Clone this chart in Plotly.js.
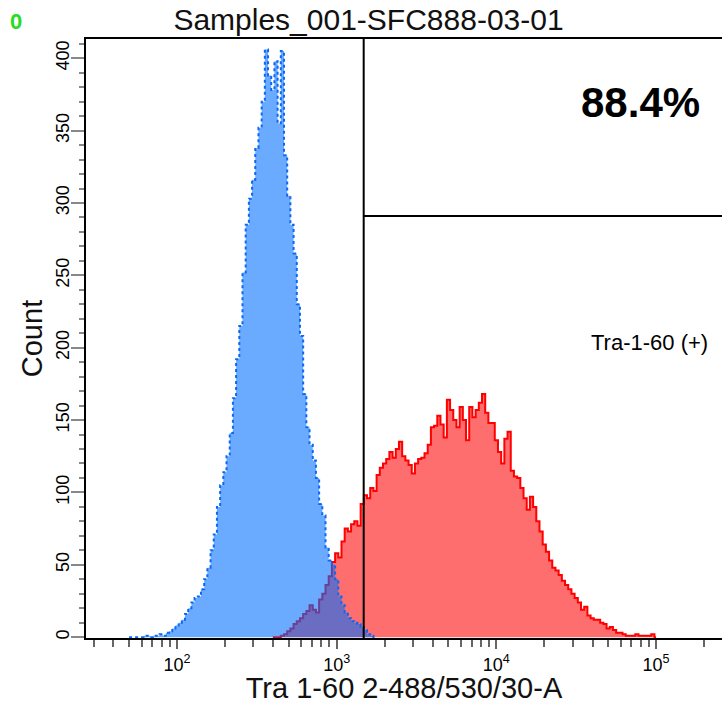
<!DOCTYPE html>
<html><head><meta charset="utf-8">
<script src="https://cdn.plot.ly/plotly-3.0.1.min.js"></script>
<style>html,body{margin:0;padding:0;background:#fff}#chart{width:722px;height:704px}</style>
</head><body><div id="chart"></div>
<script>
const chartTitle = 'Samples_001-SFC888-03-01';
const xTitle = 'Tra 1-60 2-488/530/30-A';
const yTitle = 'Count';
const sampleTag = '0';

// histogram bins: first bin centre (log10) and bin width (log10)
const controlStartLog = 1.70;
const stainedStartLog = 2.60;
const binStepLog = 0.02;

// isotype / unstained control (blue)
const controlCounts = [
  0,0,0,0,0,1,1,0,1,1,
  2,1,3,4,6,8,10,12,16,20,
  24,27,28,33,40,48,60,71,90,105,
  114,125,141,165,192,215,252,285,303,316,
  338,352,370,406,388,378,398,355,405,333,
  305,285,265,230,208,168,145,133,122,110,
  92,84,62,53,50,40,28,22,17,13,
  11,10,9,7,5,2,1,0
];
// Tra-1-60 stained sample (red)
const stainedCounts = [
  0,0,0,1,2,4,6,9,11,13,
  16,18,22,19,17,26,30,36,42,52,
  58,55,66,75,73,78,80,77,92,98,
  96,103,101,112,117,120,123,128,124,130,
  135,125,122,119,113,120,123,124,127,133,
  145,146,153,147,138,164,157,150,145,159,
  150,136,159,152,157,162,168,155,148,148,
  136,128,120,137,142,115,111,110,103,96,
  88,97,90,80,73,64,59,53,48,46,
  43,39,36,33,30,27,24,19,21,15,
  13,12,12,10,9,6,7,5,3,3,
  2,1,1,1,2,1,1,1,1,2,
  0
];

const xTickVals = [100, 1000, 10000, 100000];
const xTickText = ['10<sup>2</sup>', '10<sup>3</sup>', '10<sup>4</sup>', '10<sup>5</sup>'];
const xMinorTickVals = [30,40,50,60,70,80,90,
  200,300,400,500,600,700,800,900,
  2000,3000,4000,5000,6000,7000,8000,9000,
  20000,30000,40000,50000,60000,70000,80000,90000,
  200000];
const yTickVals = [0,50,100,150,200,250,300,350,400];

const gateThreshold = 1476;
const gateCountLine = 291;
const gatePercent = '88.4%';
const gateLabel = 'Tra-1-60 (+)';

function binCentres(start, n) {
  const out = [];
  for (let i = 0; i < n; i++) out.push(Math.pow(10, start + i * binStepLog));
  return out;
}

const stainedTrace = {
  type: 'scatter', mode: 'lines',
  x: binCentres(stainedStartLog, stainedCounts.length), y: stainedCounts,
  line: {shape: 'hvh', color: '#ff0000', width: 2},
  fill: 'tozeroy', fillcolor: '#ff6e6e',
  hoverinfo: 'skip', showlegend: false
};
const controlTrace = {
  type: 'scatter', mode: 'lines',
  x: binCentres(controlStartLog, controlCounts.length), y: controlCounts,
  line: {shape: 'hvh', color: '#0a68f5', width: 2, dash: 'dot'},
  fill: 'tozeroy', fillcolor: 'rgba(0,110,255,0.584)',
  hoverinfo: 'skip', showlegend: false
};

const baseFont = 'Liberation Sans, Arial, sans-serif';

const layout = {
  width: 722, height: 704,
  margin: {l: 86, r: 0, t: 39, b: 66, pad: 0},
  paper_bgcolor: '#ffffff', plot_bgcolor: '#ffffff',
  font: {family: baseFont, color: '#000', size: 18},
  title: {text: chartTitle, x: 0.5104, xanchor: 'center', xref: 'container', y: 0.972, yref: 'container', yanchor: 'middle',
          font: {family: baseFont, size: 30, color: '#111'}},
  xaxis: {
    type: 'log', range: [1.43, 5.413], autorange: false,
    showline: true, linecolor: '#000', linewidth: 2, mirror: true,
    showgrid: false, zeroline: false,
    ticks: 'outside', ticklen: 9, tickwidth: 2, tickcolor: '#666',
    tickmode: 'array', tickvals: xTickVals, ticktext: xTickText,
    tickfont: {family: baseFont, size: 18, color: '#000'},
    minor: {tickmode: 'array', tickvals: xMinorTickVals, ticks: 'outside', ticklen: 7, tickwidth: 2, tickcolor: '#666', showgrid: false},
    title: {text: xTitle, font: {family: baseFont, size: 29, color: '#111'}, standoff: 5},
    automargin: false
  },
  yaxis: {
    range: [-0.6, 413.3], autorange: false,
    showline: true, linecolor: '#000', linewidth: 2, mirror: false,
    showgrid: false, zeroline: false,
    ticks: 'outside', ticklen: 13, tickwidth: 2, tickcolor: '#888',
    tickmode: 'array', tickvals: yTickVals, tickangle: -90,
    ticklabelstandoff: -5,
    tickfont: {family: baseFont, size: 18, color: '#000'},
    minor: {dtick: 10, ticks: 'outside', ticklen: 5, tickwidth: 2, tickcolor: '#888', showgrid: false},
    title: {text: yTitle, font: {family: baseFont, size: 29, color: '#111'}, standoff: 2},
    automargin: false
  },
  shapes: [
    {type: 'line', xref: 'x', yref: 'paper', x0: gateThreshold, x1: gateThreshold, y0: 0, y1: 1,
     line: {color: '#000', width: 2}},
    {type: 'line', xref: 'x', yref: 'y', x0: gateThreshold, x1: 1e6, y0: gateCountLine, y1: gateCountLine,
     line: {color: '#000', width: 2}}
  ],
  annotations: [
    {text: '<b>' + gatePercent + '</b>', xref: 'paper', yref: 'paper', x: 0.8726, y: 0.8948,
     xanchor: 'center', yanchor: 'middle', showarrow: false,
     font: {family: baseFont, size: 42, color: '#000'}},
    {text: gateLabel, xref: 'paper', yref: 'paper', x: 0.886, y: 0.493,
     xanchor: 'center', yanchor: 'middle', showarrow: false,
     font: {family: baseFont, size: 22, color: '#000'}},
    {text: '<b>' + sampleTag + '</b>', xref: 'paper', yref: 'paper', x: -0.11, y: 1.03,
     xanchor: 'center', yanchor: 'middle', showarrow: false,
     font: {family: baseFont, size: 22, color: '#22dd22'}}
  ]
};

Plotly.newPlot('chart', [stainedTrace, controlTrace], layout, {displayModeBar: false, staticPlot: true});
</script>
</body></html>
